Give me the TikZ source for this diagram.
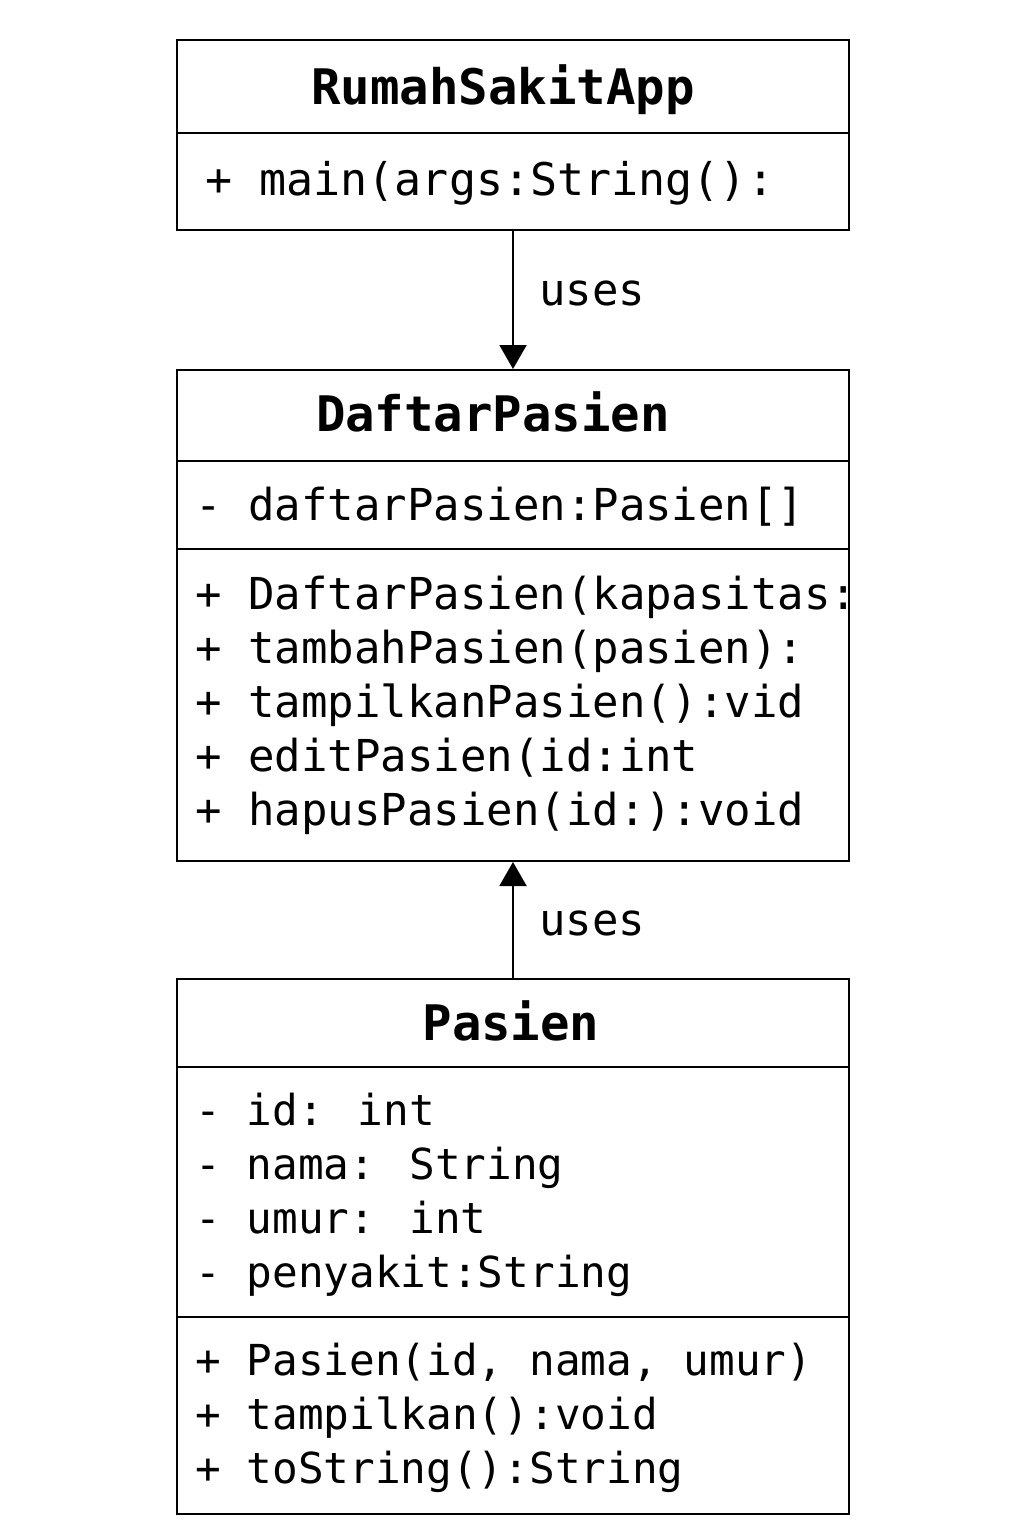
\documentclass[tikz,border=0pt]{standalone}
\usepackage{fontspec}
\newfontfamily\monofnt{DejaVu Sans Mono}
\usetikzlibrary{arrows.meta}
\begin{document}
\begin{tikzpicture}[x=1pt,y=-1pt,
  classbox/.style={draw, line width=2pt, anchor=north west, minimum width=672pt, inner sep=0pt},
  divider/.style={line width=2pt},
  titletxt/.style={anchor=base, inner sep=0pt, font=\monofnt\bfseries\fontsize{49}{58}\selectfont},
  membertxt/.style={anchor=base west, inner sep=0pt, font=\monofnt\fontsize{44}{54}\selectfont},
  membersmall/.style={membertxt, font=\monofnt\fontsize{42.7}{54}\selectfont},
  memberbig/.style={membertxt, font=\monofnt\fontsize{45}{54}\selectfont},
  labeltxt/.style={anchor=base west, inner sep=0pt, font=\monofnt\fontsize{44}{54}\selectfont},
  usesarrow/.style={line width=2pt, -{Triangle[width=27pt,length=24pt]}}
]
\useasboundingbox (0,0) rectangle (1024,1536);
\fill[white] (0,0) rectangle (1024,1536);

% RumahSakitApp
\node[classbox, minimum height=190pt] (app) at (176,39) {};
\draw[divider] (176,133) -- (848,133);
\node[titletxt] (appt) at (503,105) {RumahSakitApp};
\node[memberbig] (appm1) at (205,195) {+ main(args:String():};

% DaftarPasien
\node[classbox, minimum height=491pt] (daftar) at (176,369) {};
\draw[divider] (176,461) -- (848,461);
\draw[divider] (176,549) -- (848,549);
\node[titletxt] (daftart) at (493,431) {DaftarPasien};
\node[membertxt] (daftara1) at (195,520) {- daftarPasien:Pasien[]};
\node[membertxt] (daftarm1) at (195,609) {+ DaftarPasien(kapasitas:};
\node[membertxt] (daftarm2) at (195,663) {+ tambahPasien(pasien):};
\node[membertxt] (daftarm3) at (195,717) {+ tampilkanPasien():vid};
\node[membertxt] (daftarm4) at (195,771) {+ editPasien(id:int};
\node[membertxt] (daftarm5) at (195,825) {+ hapusPasien(id:):void};

% Pasien
\node[classbox, minimum height=535pt] (pasien) at (176,978) {};
\draw[divider] (176,1067) -- (848,1067);
\draw[divider] (176,1317) -- (848,1317);
\node[titletxt] (pasient) at (511,1040) {Pasien};
\node[membersmall] (pasiena1) at (195,1125) {- id: int};
\node[membersmall] (pasiena2) at (195,1179) {- nama: String};
\node[membersmall] (pasiena3) at (195,1233) {- umur: int};
\node[membersmall] (pasiena4) at (195,1287) {- penyakit:String};
\node[membersmall] (pasienm1) at (195,1375) {+ Pasien(id, nama, umur)};
\node[membersmall] (pasienm2) at (195,1429) {+ tampilkan():void};
\node[membersmall] (pasienm3) at (195,1483) {+ toString():String};

% connectors
\draw[usesarrow] (app.south) -- (daftar.north);
\draw[usesarrow] (pasien.north) -- (daftar.south);
\node[labeltxt] (uses1) at (539,305) {uses};
\node[labeltxt] (uses2) at (539,935) {uses};
\end{tikzpicture}
\end{document}
